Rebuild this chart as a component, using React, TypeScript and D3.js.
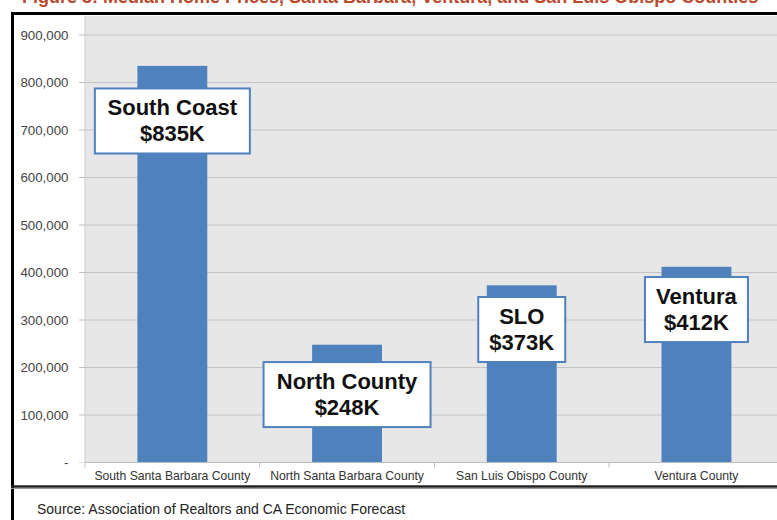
import React from "react";
import * as d3 from "d3";

const categories = [
  "South Santa Barbara County",
  "North Santa Barbara County",
  "San Luis Obispo County",
  "Ventura County",
];
const medianPrices = [835000, 248000, 373000, 412000];
const calloutNames = ["South Coast", "North County", "SLO", "Ventura"];
const yTicks = [0, 100000, 200000, 300000, 400000, 500000, 600000, 700000, 800000, 900000];
const titleText = "Figure 3: Median Home Prices, Santa Barbara, Ventura, and San Luis Obispo Counties";
const sourceText = "Source: Association of Realtors and CA Economic Forecast";

// layout for callout boxes (value-space centre and pixel width)
const calloutCenterValue = [719000, 143000, 280000, 322000];
const calloutWidth = [155, 167, 87, 103];

const W = 777;
const H = 520;
const FONT = "'Liberation Sans', Arial, Helvetica, sans-serif";

export default function App() {
  const plotLeft = 85;
  const step = 174.7;
  const x = d3
    .scaleBand<string>()
    .domain(categories)
    .range([plotLeft, plotLeft + step * categories.length])
    .paddingInner(0.6)
    .paddingOuter(0.3);
  const y = d3.scaleLinear().domain([0, 900000]).range([462.5, 35]);
  const fmt = d3.format(",");
  const boundaries = d3.range(categories.length + 1).map((i) => plotLeft + i * step);

  return (
    <svg
      width={W}
      height={H}
      style={{ position: "absolute", left: 0, top: 0, background: "#fff" }}
      fontFamily={FONT}
    >
      <rect x={0} y={0} width={W} height={H} fill="#fff" />
      {/* title (cropped at the top edge, as in the reference) */}
      <text x={22} y={3} fontSize={18} fontWeight="bold" fill="#b94a2c">
        {titleText}
      </text>
      {/* plot background */}
      <rect x={plotLeft} y={16} width={W - plotLeft} height={y(0) - 16} fill="#e7e7e7" />
      {/* gridlines */}
      {yTicks.map((t) => (
        <line key={"g" + t} x1={plotLeft} x2={W} y1={y(t)} y2={y(t)} stroke="#c4c4c4" strokeWidth={1} />
      ))}
      <line x1={plotLeft} x2={plotLeft} y1={16} y2={y(0)} stroke="#cfcfcf" />
      {/* y ticks and labels */}
      {yTicks.map((t) => (
        <g key={"t" + t}>
          <line x1={79} x2={plotLeft} y1={y(t)} y2={y(t)} stroke="#bdbdbd" />
          <text
            x={68.5}
            y={y(t)}
            dy="0.35em"
            textAnchor="end"
            fontSize={13.3}
            fill="#444"
          >
            {t === 0 ? "-" : fmt(t)}
          </text>
        </g>
      ))}
      {/* bars */}
      {categories.map((c, i) => (
        <rect
          key={c}
          x={x(c)}
          y={y(medianPrices[i])}
          width={x.bandwidth()}
          height={y(0) - y(medianPrices[i])}
          fill="#4f81bd"
        />
      ))}
      {/* x axis */}
      <rect x={plotLeft - 10} y={y(0)} width={W} height={486 - y(0)} fill="#fff" />
      <line x1={plotLeft} x2={W} y1={y(0)} y2={y(0)} stroke="#bdbdbd" />
      {boundaries.map((b, i) => (
        <line key={"b" + i} x1={b} x2={b} y1={y(0)} y2={y(0) + 5} stroke="#bdbdbd" />
      ))}
      {categories.map((c) => (
        <text
          key={"l" + c}
          x={(x(c) as number) + x.bandwidth() / 2}
          y={480}
          textAnchor="middle"
          fontSize={12.2}
          fill="#333"
        >
          {c}
        </text>
      ))}
      {/* callouts */}
      {categories.map((c, i) => {
        const cx = (x(c) as number) + x.bandwidth() / 2;
        const bh = 65;
        const top = y(calloutCenterValue[i]) - bh / 2;
        const w = calloutWidth[i];
        return (
          <g key={"c" + c}>
            <rect
              x={cx - w / 2}
              y={top}
              width={w}
              height={bh}
              fill="#fff"
              stroke="#4f81bd"
              strokeWidth={2}
            />
            <text x={cx} y={top + 27} textAnchor="middle" fontSize={22} fontWeight="bold" fill="#111">
              {calloutNames[i]}
            </text>
            <text x={cx} y={top + 53} textAnchor="middle" fontSize={22} fontWeight="bold" fill="#111">
              {`$${Math.round(medianPrices[i] / 1000)}K`}
            </text>
          </g>
        );
      })}
      {/* frame */}
      <line x1={11} x2={W} y1={13.5} y2={13.5} stroke="#000" strokeWidth={3} />
      <line x1={12.5} x2={12.5} y1={12} y2={H} stroke="#000" strokeWidth={3} />
      <line x1={11} x2={W} y1={486.5} y2={486.5} stroke="#222" strokeWidth={2.5} />
      <line x1={11} x2={W} y1={488.5} y2={488.5} stroke="#999" strokeWidth={1} />
      {/* source */}
      <text x={37} y={514} fontSize={14} fill="#222">
        {sourceText}
      </text>
    </svg>
  );
}
